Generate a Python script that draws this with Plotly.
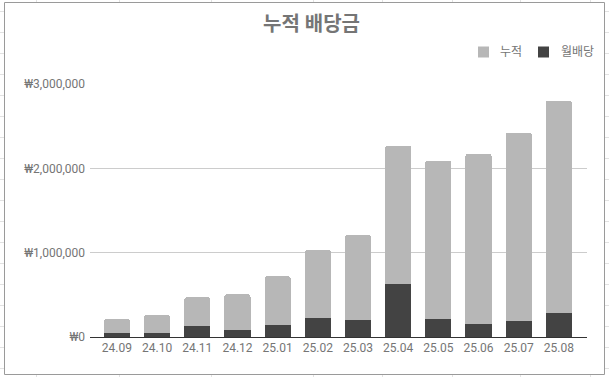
import plotly.graph_objects as go

# ---- data ----
months = ["24.09", "24.10", "24.11", "24.12", "25.01", "25.02",
          "25.03", "25.04", "25.05", "25.06", "25.07", "25.08"]
monthly = [49000, 49000, 128000, 85000, 140000, 227000,
           200000, 628000, 212000, 156000, 188000, 287000]
cumulative = [163000, 210000, 345000, 424000, 583000, 805000,
              1010000, 1641000, 1878000, 2018000, 2235000, 2516000]
series_names = ["월배당", "누적"]
series_colors = ["#434343", "#b7b7b7"]
title_text = "누적 배당금"

# ---- layout geometry (pixels) ----
W, H = 609, 377
ML, MR, MT, MB = 90, 22, 84, 40
PW, PH = W - ML - MR, H - MT - MB


def px(x):
    return (x - ML) / PW


def py(y):
    return (H - MB - y) / PH


fig = go.Figure()
fig.add_trace(go.Bar(x=months, y=monthly, name=series_names[0],
                     marker=dict(color=series_colors[0], line=dict(width=0))))
fig.add_trace(go.Bar(x=months, y=cumulative, name=series_names[1],
                     marker=dict(color=series_colors[1], line=dict(width=0))))

shapes = []
# spreadsheet grid behind the chart
sheet_color = "#e2e2e2"
for yy in range(11, 377, 21):
    shapes.append(dict(type="line", xref="paper", yref="paper",
                       x0=px(0), x1=px(W), y0=py(yy + 0.5), y1=py(yy + 0.5),
                       line=dict(color=sheet_color, width=1), layer="below"))
for xx in [36, 119, 211, 313, 382, 452, 520, 590]:
    shapes.append(dict(type="line", xref="paper", yref="paper",
                       x0=px(xx + 0.5), x1=px(xx + 0.5), y0=py(0), y1=py(H),
                       line=dict(color=sheet_color, width=1), layer="below"))
# chart frame
shapes.append(dict(type="rect", xref="paper", yref="paper",
                   x0=px(4.5), x1=px(604.5), y0=py(2.5), y1=py(374.5),
                   fillcolor="white", line=dict(color="#9a9a9a", width=1),
                   layer="below"))

# custom legend (누적 first, then 월배당)
legend_items = [(series_names[1], series_colors[1], 478, 498),
                (series_names[0], series_colors[0], 538, 559)]
annotations = []
for name, col, sq_x, tx_x in legend_items:
    shapes.append(dict(type="rect", xref="paper", yref="paper",
                       x0=px(sq_x), x1=px(sq_x + 11), y0=py(46.5), y1=py(57.5),
                       fillcolor=col, line=dict(width=0), layer="above"))
    annotations.append(dict(text=name, xref="paper", yref="paper",
                            x=px(tx_x), y=py(52), xanchor="left", yanchor="middle",
                            showarrow=False,
                            font=dict(family="Roboto, 'Noto Sans CJK KR'", size=12,
                                      color="#757575")))

fig.update_layout(
    width=W, height=H,
    margin=dict(l=ML, r=MR, t=MT, b=MB),
    paper_bgcolor="white",
    plot_bgcolor="white",
    barmode="stack",
    bargap=0.35,
    barcornerradius=3,
    showlegend=False,
    title=dict(text=title_text, x=311.5 / W, xref="container", xanchor="center",
               y=1 - 23.5 / H, yref="container", yanchor="middle",
               font=dict(family="Roboto, 'Noto Sans CJK KR'", size=20,
                         color="#757575", weight="bold")),
    font=dict(family="Roboto, 'Noto Sans CJK KR'", size=12, color="#757575"),
    xaxis=dict(type="category", range=[-0.67, 11.70], showgrid=False,
               showline=True, linecolor="#333333", linewidth=1,
               ticks="", tickfont=dict(size=12, color="#757575")),
    yaxis=dict(range=[0, 3000000], dtick=1000000, tick0=0,
               tickprefix="₩", tickformat=",d",
               showgrid=True, gridcolor="#cccccc", gridwidth=1,
               zeroline=False, showline=False, ticks="",
               ticklabelstandoff=4,
               tickfont=dict(size=12, color="#757575")),
    shapes=shapes,
    annotations=annotations,
)

fig.write_html("out.html")
